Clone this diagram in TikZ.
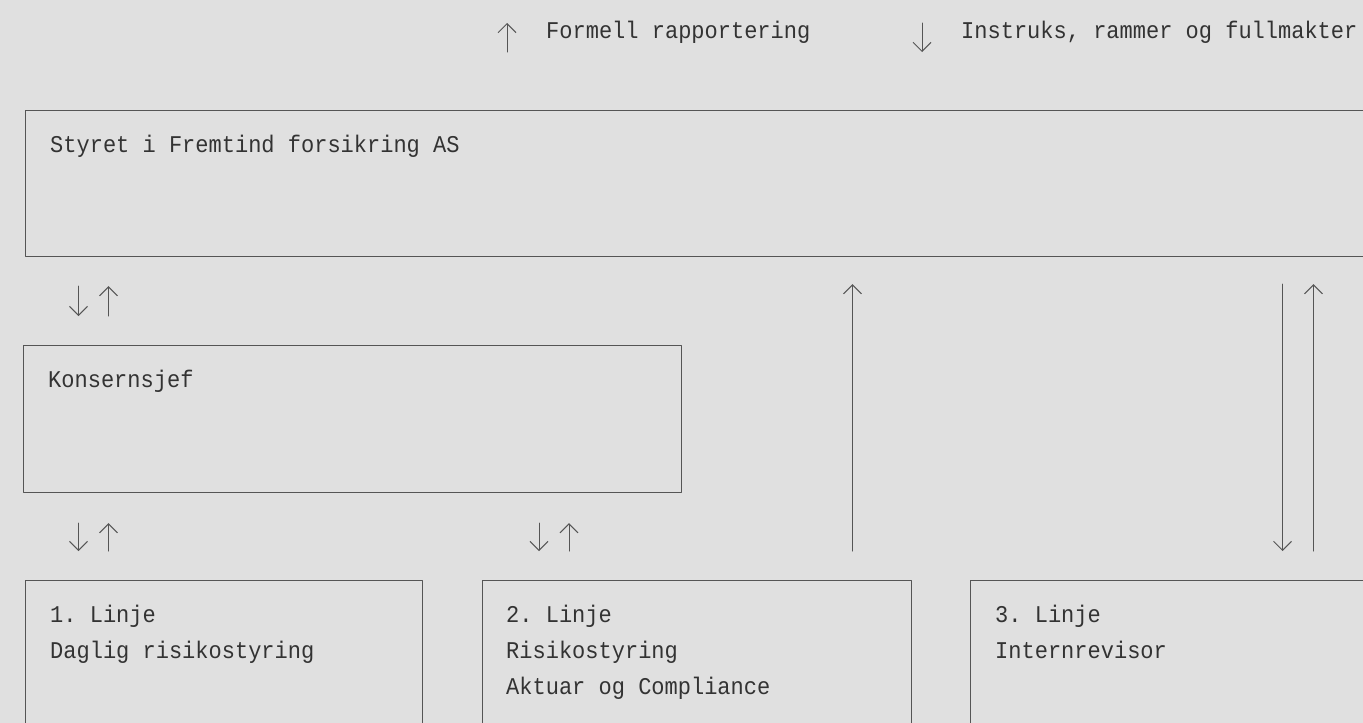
\documentclass[tikz,border=0pt]{standalone}
\usepackage{fontspec}
\setmonofont[FakeStretch=0.917]{Liberation Mono}
\usetikzlibrary{arrows.meta,positioning}
\definecolor{bgcol}{HTML}{E0E0E0}
\definecolor{linecol}{HTML}{555555}
\definecolor{txtcol}{HTML}{333333}
\tikzset{
  boks/.style={draw=linecol, line width=1.1pt, rectangle, inner sep=0pt, anchor=north west},
  tekst/.style={text=txtcol, font=\ttfamily\fontsize{24}{36}\selectfont, anchor=base west, inner sep=0pt},
  pil/.style={draw=linecol, line width=1pt, -{Straight Barb[length=9pt,width=18pt]}},
}
\begin{document}
\begin{tikzpicture}[x=1pt, y=-1pt, line join=round, line cap=round]
\fill[bgcol] (0,0) rectangle (1363,723);
\useasboundingbox (0,0) rectangle (1363,723);
% forklaring
\node[tekst] (formell) at (546,38) {Formell rapportering};
\node[tekst] (instruks) at (961,38) {Instruks, rammer og fullmakter};
\coordinate (formellA) at (507,52);
\coordinate (formellB) at (507,23);
\coordinate (instruksA) at (922,23);
\coordinate (instruksB) at (922,52);
\draw[pil] (formellA) -- (formellB);
\draw[pil] (instruksA) -- (instruksB);
% boksene
\node[boks, minimum width=1400pt, minimum height=146pt] (styret) at (25,110) {};
\node[boks, minimum width=658pt, minimum height=147pt] (konsern) at (23,345) {};
\node[boks, minimum width=397pt, minimum height=200pt] (linje1) at (25,580) {};
\node[boks, minimum width=429pt, minimum height=200pt] (linje2) at (482,580) {};
\node[boks, minimum width=450pt, minimum height=200pt] (linje3) at (970,580) {};
\node[tekst] (styretTxt) at ([shift={(25pt,-42pt)}]styret.north west) {Styret i Fremtind forsikring AS};
\node[tekst] (konsernTxt) at ([shift={(25pt,-42pt)}]konsern.north west) {Konsernsjef};
\node[tekst] (linje1Txt) at ([shift={(25pt,-42pt)}]linje1.north west) {1. Linje};
\node[tekst] (linje1TxtB) at ([yshift=-36pt]linje1Txt.base west) {Daglig risikostyring};
\node[tekst] (linje2Txt) at ([shift={(24pt,-42pt)}]linje2.north west) {2. Linje};
\node[tekst] (linje2TxtB) at ([yshift=-36pt]linje2Txt.base west) {Risikostyring};
\node[tekst] (linje2TxtC) at ([yshift=-36pt]linje2TxtB.base west) {Aktuar og Compliance};
\node[tekst] (linje3Txt) at ([shift={(25pt,-42pt)}]linje3.north west) {3. Linje};
\node[tekst] (linje3TxtB) at ([yshift=-36pt]linje3Txt.base west) {Internrevisor};
% piler
\draw[pil] ([shift={(53.5pt,-29pt)}]styret.south west) -- ([shift={(55.5pt,29pt)}]konsern.north west);
\draw[pil] ([shift={(85.5pt,29pt)}]konsern.north west) -- ([shift={(83.5pt,-29pt)}]styret.south west);
\draw[pil] ([shift={(55.5pt,-30pt)}]konsern.south west) -- ([shift={(53.5pt,29pt)}]linje1.north west);
\draw[pil] ([shift={(83.5pt,29pt)}]linje1.north west) -- ([shift={(85.5pt,-30pt)}]konsern.south west);
\draw[pil] ([shift={(516pt,-30pt)}]konsern.south west) -- ([shift={(57pt,29pt)}]linje2.north west);
\draw[pil] ([shift={(87pt,29pt)}]linje2.north west) -- ([shift={(546pt,-30pt)}]konsern.south west);
\draw[pil] ([shift={(370.5pt,29pt)}]linje2.north west) -- ([shift={(827.5pt,-27pt)}]styret.south west);
\draw[pil] ([shift={(1257.5pt,-27pt)}]styret.south west) -- ([shift={(312.5pt,29pt)}]linje3.north west);
\draw[pil] ([shift={(343.5pt,29pt)}]linje3.north west) -- ([shift={(1288.5pt,-27pt)}]styret.south west);
\end{tikzpicture}
\end{document}
